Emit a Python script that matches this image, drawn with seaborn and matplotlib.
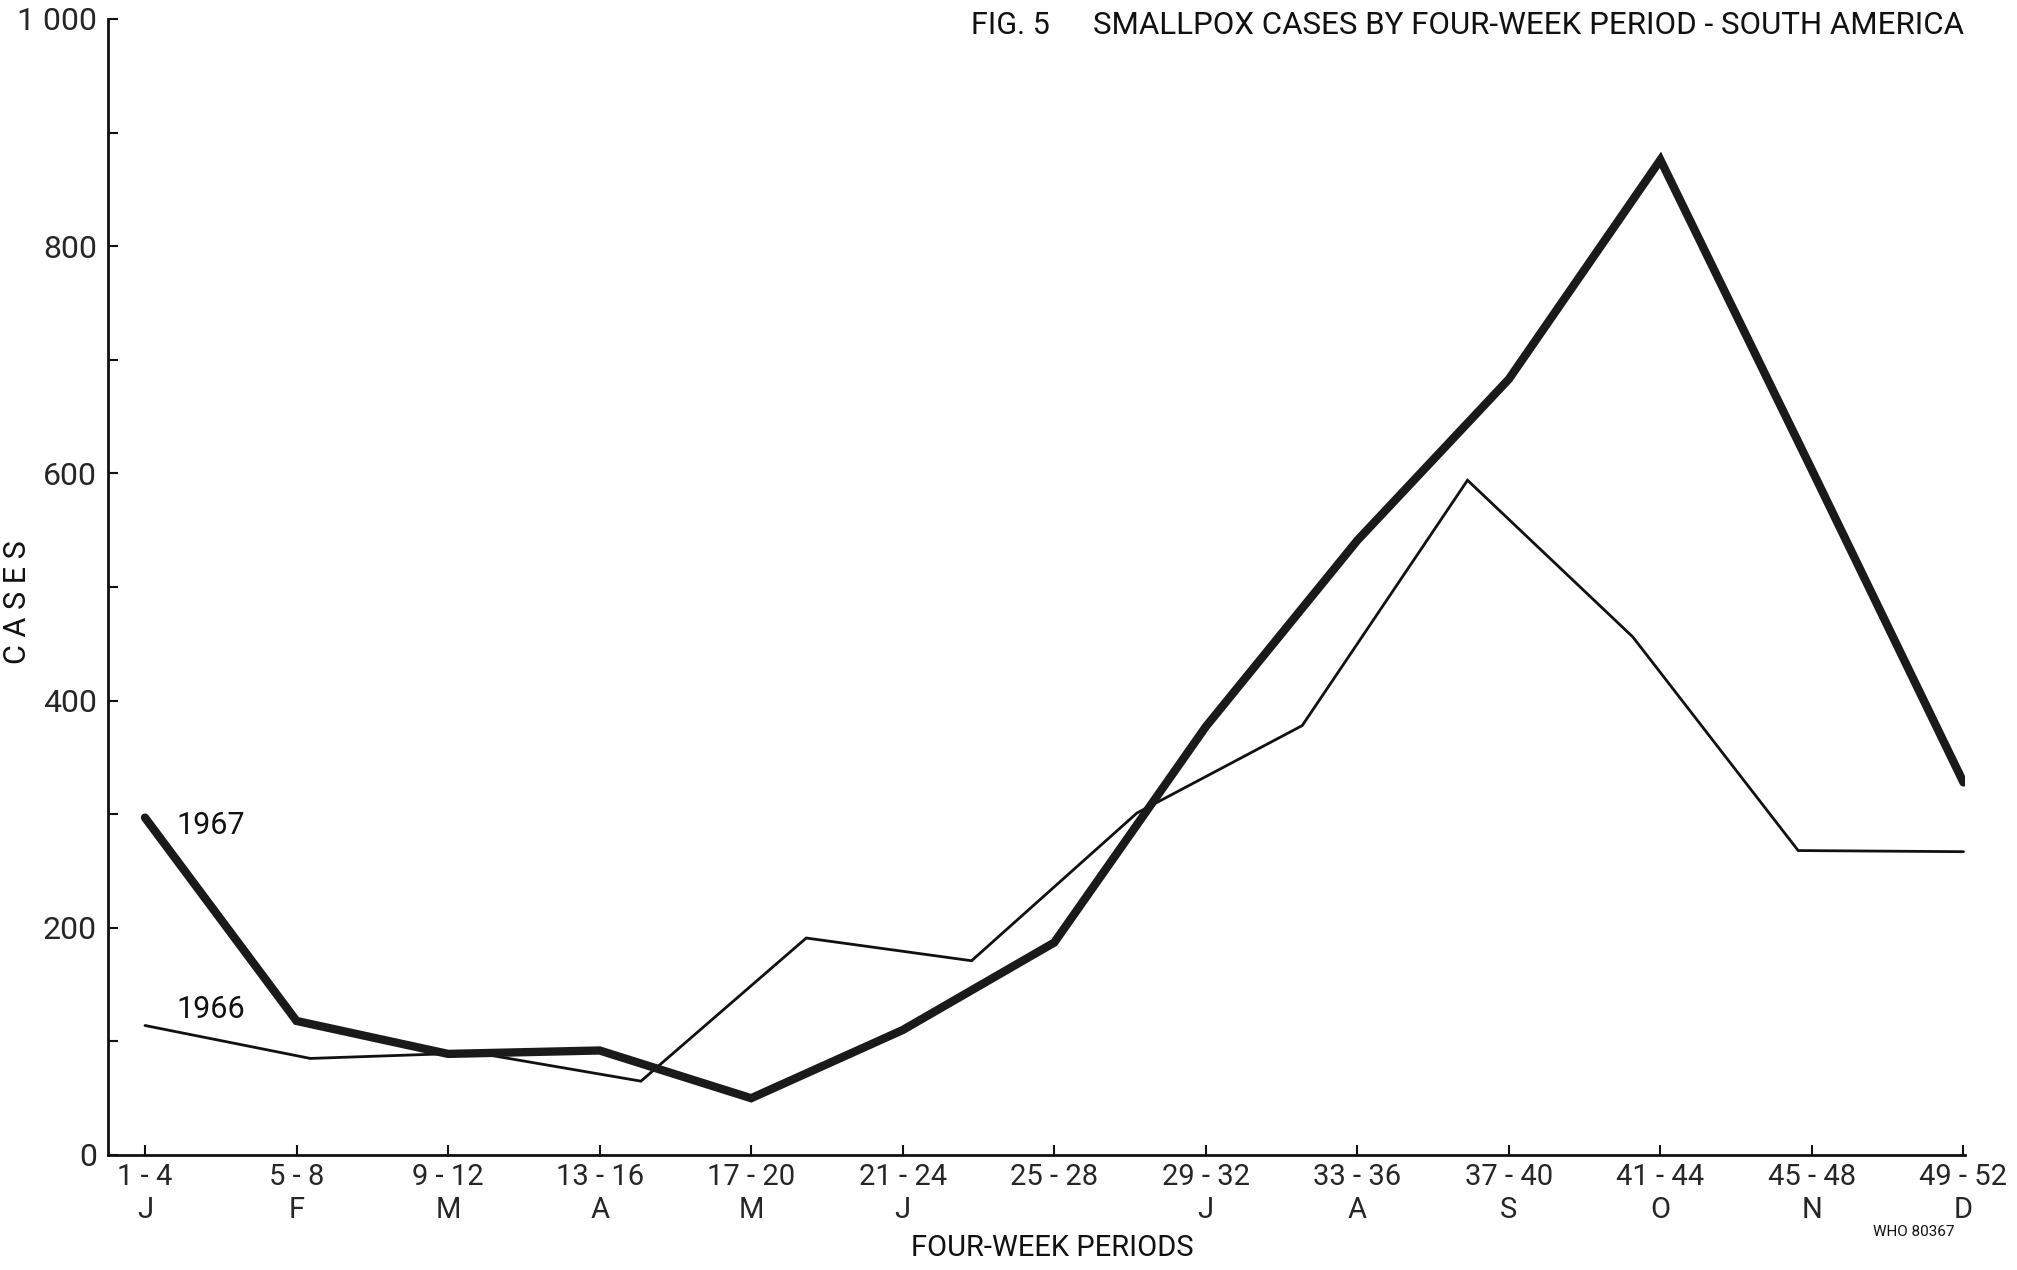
import numpy as np
import pandas as pd
import matplotlib
matplotlib.use("Agg")
import matplotlib.pyplot as plt
from matplotlib.ticker import MultipleLocator
import seaborn as sns

# Four-week reporting periods and the month each one falls in
period_labels = ["1 - 4", "5 - 8", "9 - 12", "13 - 16", "17 - 20", "21 - 24", "25 - 28",
                 "29 - 32", "33 - 36", "37 - 40", "41 - 44", "45 - 48", "49 - 52"]
month_letters = ["J", "F", "M", "A", "M", "J", "", "J", "A", "S", "O", "N", "D"]

# 1967 cases per four-week period
cases_1967 = [297, 118, 89, 92, 50, 110, 187, 377, 541, 683, 876, 603, 328]

# 1966 cases per calendar month
months_1966 = ["Jan", "Feb", "Mar", "Apr", "May", "Jun",
               "Jul", "Aug", "Sep", "Oct", "Nov", "Dec"]
cases_1966 = [114, 85, 90, 65, 191, 171, 301, 378, 594, 456, 268, 267]

y_ticks = [0, 200, 400, 600, 800, 1000]
y_tick_labels = ["0", "200", "400", "600", "800", "1 000"]

sns.set_theme(style="white")
plt.rcParams["font.family"] = ["Roboto", "DejaVu Sans"]
plt.rcParams["text.color"] = "#111111"

W, H = 2017, 1270
fig = plt.figure(figsize=(W / 100, H / 100), dpi=100)
fig.patch.set_facecolor("white")
ax = fig.add_axes([108 / W, 1 - 1155 / H, (1965 - 108) / W, (1155 - 19) / H])

df67 = pd.DataFrame({"period": np.arange(len(cases_1967)), "cases": cases_1967})
# monthly values spread evenly across the same year-long axis
df66 = pd.DataFrame({"month": months_1966,
                     "position": np.linspace(0, len(period_labels) - 1, len(months_1966)),
                     "cases": cases_1966})

sns.lineplot(data=df66, x="position", y="cases", color="#111111", lw=2.0, ax=ax,
             solid_joinstyle="miter", sort=False)
sns.lineplot(data=df67, x="period", y="cases", color="#1a1a1a", lw=6.0, ax=ax,
             solid_joinstyle="miter", sort=False)

ax.set_xlim(-0.244, 12.01)
ax.set_ylim(0, 1000)

ax.set_xticks(range(len(period_labels)))
ax.set_xticklabels([f"{p}\n{m}" for p, m in zip(period_labels, month_letters)],
                   fontsize=21, linespacing=1.2)
ax.set_yticks(y_ticks)
ax.set_yticklabels(y_tick_labels, fontsize=23)
ax.yaxis.set_minor_locator(MultipleLocator(100))

ax.tick_params(axis="x", which="major", direction="in", length=7, width=1.5,
               color="#111111", pad=6, bottom=True)
ax.tick_params(axis="y", which="both", direction="in", length=7, width=1.5,
               color="#111111", pad=8, left=True)

for side in ("top", "right"):
    ax.spines[side].set_visible(False)
for side in ("left", "bottom"):
    ax.spines[side].set_color("#111111")
    ax.spines[side].set_linewidth(2.0)

ax.set_xlabel("")
ax.set_ylabel("")

# Series labels next to the start of each line
ax.text(0.21, 290, "1967", fontsize=22, ha="left", va="center")
ax.text(0.21, 128, "1966", fontsize=22, ha="left", va="center")

# Titles and axis captions
fig.text(971 / W, 1 - 25 / H, "FIG. 5", fontsize=22, ha="left", va="center")
fig.text(1964 / W, 1 - 25 / H, "SMALLPOX CASES BY FOUR-WEEK PERIOD - SOUTH AMERICA",
         fontsize=22.5, ha="right", va="center")
fig.text(18 / W, 1 - 602 / H, "C A S E S", fontsize=22, rotation=90,
         ha="center", va="center")
fig.text(1052 / W, 1 - 1248 / H, "FOUR-WEEK PERIODS", fontsize=21,
         ha="center", va="center")
fig.text(1914 / W, 1 - 1232 / H, "WHO 80367", fontsize=11, ha="center", va="center")

fig.savefig("out.png", dpi=100, facecolor="white")
